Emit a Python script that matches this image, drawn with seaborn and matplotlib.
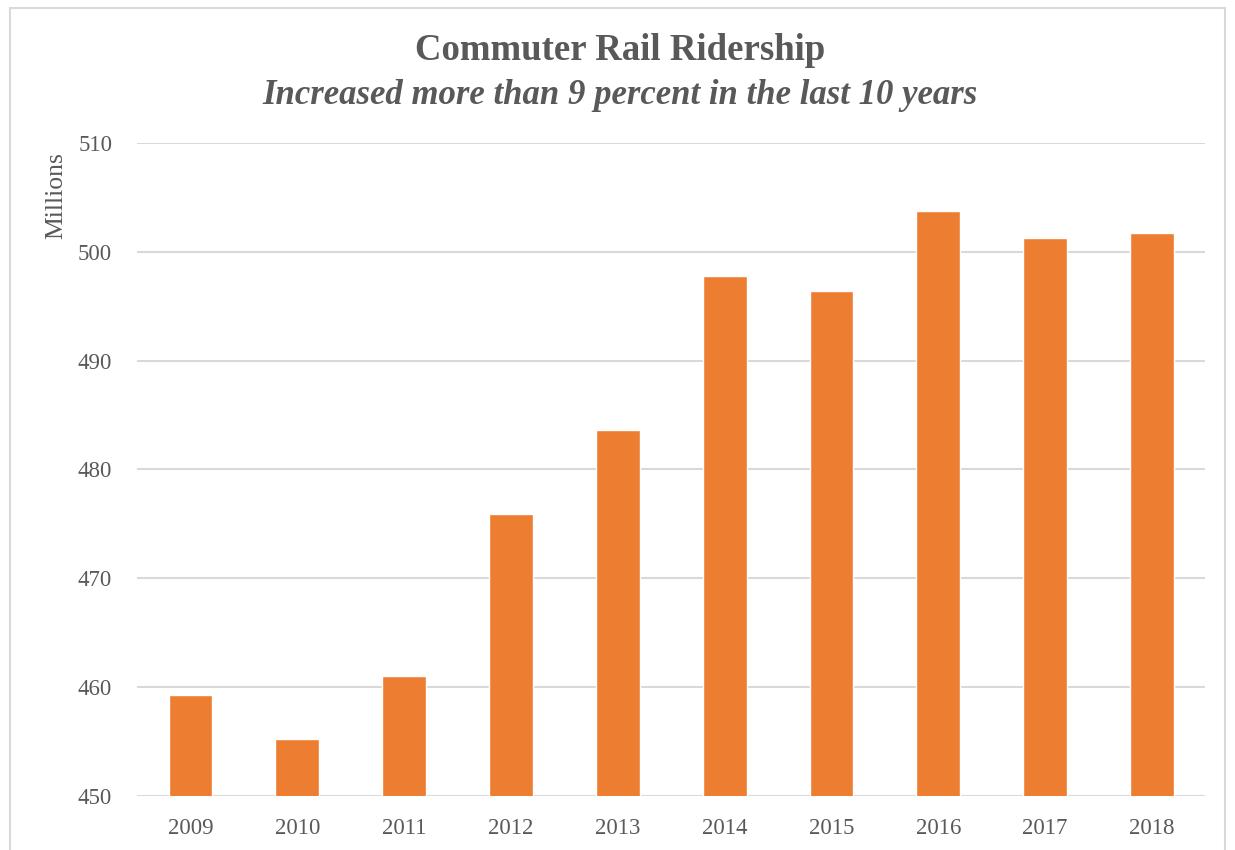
import matplotlib
matplotlib.use("Agg")
import matplotlib.pyplot as plt
import seaborn as sns
import pandas as pd
from matplotlib.patches import Rectangle

years = ["2009", "2010", "2011", "2012", "2013", "2014", "2015", "2016", "2017", "2018"]
ridership = [459.3, 455.2, 461.0, 475.9, 483.6, 497.8, 496.4, 503.7, 501.3, 501.7]
y_ticks = [450, 460, 470, 480, 490, 500, 510]

df = pd.DataFrame({"Year": years, "Ridership": ridership})

sns.set_style("white")
plt.rcParams["font.family"] = ["Liberation Serif", "DejaVu Serif"]

grey = "#595959"
fig = plt.figure(figsize=(12.35, 8.5), dpi=100)
ax = fig.add_axes([0.111, 0.0635, 0.865, 0.7685])

sns.barplot(data=df, x="Year", y="Ridership", color="#ED7D31", width=0.41,
            saturation=1, ax=ax, zorder=3)

ax.set_ylim(450, 510)
ax.set_yticks(y_ticks)
ax.set_xlim(-0.5, 9.5)
ax.grid(axis="y", color="#d9d9d9", linewidth=1.5, zorder=0)
for s in ax.spines.values():
    s.set_visible(False)
ax.tick_params(axis="both", length=0, labelsize=16.5, labelcolor=grey)
ax.tick_params(axis="y", pad=18)
ax.tick_params(axis="x", pad=16)
ax.set_xlabel("")
ax.set_ylabel("")
fig.text(56 / 1235, 1 - 152 / 850, "Millions", rotation=90, ha="center", va="top",
         fontsize=18.5, color=grey)

fig.text(0.502, 1 - 50 / 850, "Commuter Rail Ridership", ha="center", va="center",
         fontsize=26.5, fontweight="bold", color=grey)
fig.text(0.502, 1 - 95 / 850, "Increased more than 9 percent in the last 10 years", ha="center",
         va="center", fontsize=25, fontweight="bold", style="italic", color=grey)

# thin frame around the chart area
fig.patches.append(Rectangle((10 / 1235, -0.05), 1215 / 1235, 1.05 - 8 / 850,
                             transform=fig.transFigure, fill=False,
                             edgecolor="#d9d9d9", linewidth=1.5))

fig.savefig("out.png", dpi=100)
